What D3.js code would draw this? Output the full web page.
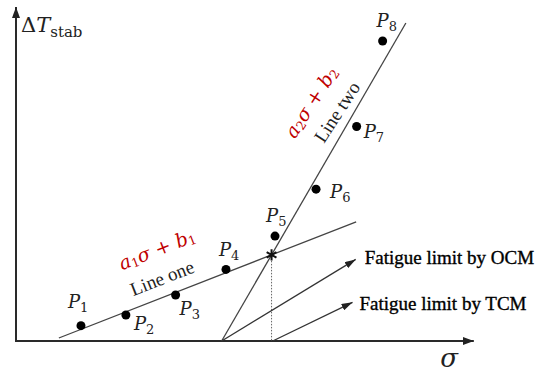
<!DOCTYPE html>
<html><head><meta charset="utf-8">
<script src="https://cdn.jsdelivr.net/npm/d3@7"></script>
<style>html,body{margin:0;padding:0;background:#fff;}svg{display:block;}</style>
</head><body>
<svg id="chart" width="537" height="374"></svg>
<script>
// ---- data ----
const pointNames = ["1","2","3","4","5","6","7","8"];
const sigmaVals = [14.25, 24.1, 35.0, 46.05, 56.8, 65.8, 74.7, 80.4];
const dTVals    = [4.6, 7.8, 13.8, 21.5, 31.5, 45.6, 64.4, 90.1];
const lineOneSigma = [9.4, 74.6];
const lineOneT     = [0.9, 35.8];
const lineTwoSigma = [45.1, 85.5];
const lineTwoT     = [0, 95.5];
const ocmSigma = [45.1, 74.5];
const ocmT     = [0, 24.5];
const tcmSigma = [56.3, 73.8];
const tcmT     = [0, 11.6];
const arrowLabels = ["Fatigue limit by OCM", "Fatigue limit by TCM"];
const lineNames = ["Line one", "Line two"];

// ---- layout ----
const svg = d3.select("#chart");
const x = d3.scaleLinear().domain([0, 100]).range([16, 472]);
const y = d3.scaleLinear().domain([0, 100]).range([341, 8]);
const serif = "'Liberation Serif','Times New Roman',serif";
const math = "'DejaVu Serif',serif";

const defs = svg.append("defs");
function marker(id, len, wid) {
  defs.append("marker").attr("id", id).attr("viewBox", `0 0 ${len} ${wid}`)
    .attr("refX", len).attr("refY", wid/2).attr("markerUnits", "userSpaceOnUse")
    .attr("markerWidth", len).attr("markerHeight", wid).attr("orient", "auto")
    .append("path").attr("d", `M0,0L${len},${wid/2}L0,${wid}Z`).attr("fill", "#222");
}
marker("axArrow", 11, 8);
marker("anArrow", 11, 7);

// axes
svg.append("line").attr("x1", x(0)).attr("y1", y(0)).attr("x2", x(100.4)).attr("y2", y(0))
  .attr("stroke", "#2a2a2a").attr("stroke-width", 2).attr("marker-end", "url(#axArrow)");
svg.append("line").attr("x1", x(0)).attr("y1", y(0) + 1).attr("x2", x(0)).attr("y2", y(100.3))
  .attr("stroke", "#2a2a2a").attr("stroke-width", 2).attr("marker-end", "url(#axArrow)");

// fitted lines
const lineGen = d3.line().x(d => x(d[0])).y(d => y(d[1]));
svg.append("path").attr("d", lineGen(d3.zip(lineOneSigma, lineOneT)))
  .attr("stroke", "#444").attr("stroke-width", 1.3).attr("fill", "none");
svg.append("path").attr("d", lineGen(d3.zip(lineTwoSigma, lineTwoT)))
  .attr("stroke", "#444").attr("stroke-width", 1.3).attr("fill", "none");

// intersection
const a1 = (lineOneT[1]-lineOneT[0])/(lineOneSigma[1]-lineOneSigma[0]), b1 = lineOneT[0]-a1*lineOneSigma[0];
const a2 = (lineTwoT[1]-lineTwoT[0])/(lineTwoSigma[1]-lineTwoSigma[0]), b2 = lineTwoT[0]-a2*lineTwoSigma[0];
const sI = (b1-b2)/(a2-a1), tI = a1*sI + b1;

svg.append("line").attr("x1", x(sI)).attr("y1", y(tI)).attr("x2", x(sI)).attr("y2", y(0))
  .attr("stroke", "#666").attr("stroke-width", 1).attr("stroke-dasharray", "1.5,1.5");

// annotation arrows
[[ocmSigma, ocmT], [tcmSigma, tcmT]].forEach(([s, t]) => {
  svg.append("path").attr("d", lineGen(d3.zip(s, t)))
    .attr("stroke", "#333").attr("stroke-width", 1.3).attr("fill", "none")
    .attr("marker-end", "url(#anArrow)");
});
svg.append("text").attr("x", x(ocmSigma[1]) + 9).attr("y", y(ocmT[1]) + 5)
  .attr("font-family", serif).attr("font-size", 19).attr("fill", "#000")
  .attr("stroke", "#000").attr("stroke-width", 0.35).text(arrowLabels[0]);
svg.append("text").attr("x", x(tcmSigma[1]) + 7).attr("y", y(tcmT[1]) + 8)
  .attr("font-family", serif).attr("font-size", 19).attr("fill", "#000")
  .attr("stroke", "#000").attr("stroke-width", 0.35).text(arrowLabels[1]);

// star
svg.append("path").attr("transform", `translate(${x(sI)},${y(tI)})`)
  .attr("d", d3.symbol(d3.symbolAsterisk, 90)())
  .attr("stroke", "#111").attr("stroke-width", 2).attr("fill", "none");

// points
const pts = d3.zip(sigmaVals, dTVals, pointNames);
svg.selectAll("circle.pt").data(pts).join("circle").attr("class", "pt")
  .attr("cx", d => x(d[0])).attr("cy", d => y(d[1])).attr("r", 4.5).attr("fill", "#000");

const labelOff = [[-13,-18],[8,15],[4,20],[-7,-13],[-9,-14],[14,9],[7,11],[-6,-14]];
pts.forEach((d, i) => {
  const t = svg.append("text").attr("x", x(d[0]) + labelOff[i][0]).attr("y", y(d[1]) + labelOff[i][1])
    .attr("font-family", math).attr("fill", "#222");
  t.append("tspan").attr("font-size", 18).attr("font-style", "italic").text("P");
  t.append("tspan").attr("font-size", 13).attr("dy", 4).text(d[2]);
});

// line name labels
const ang1 = Math.atan2(y(lineOneT[1]) - y(lineOneT[0]), x(lineOneSigma[1]) - x(lineOneSigma[0])) * 180 / Math.PI;
const ang2 = -57;
function rotText(cx, cy, ang) {
  return svg.append("text").attr("transform", `translate(${cx},${cy}) rotate(${ang})`)
    .attr("text-anchor", "middle").attr("dominant-baseline", "central");
}
rotText(162, 278, ang1).attr("font-family", serif).attr("font-size", 19).attr("fill", "#222").text(lineNames[0]);
rotText(337, 112, ang2).attr("font-family", serif).attr("font-size", 19).attr("fill", "#222").text(lineNames[1]);

function formula(cx, cy, ang, k) {
  const t = rotText(cx, cy, ang).attr("font-family", math).attr("font-size", 19).attr("fill", "#c00000");
  t.append("tspan").attr("font-style", "italic").text("a");
  t.append("tspan").attr("font-size", 12.5).attr("dy", 4).text(k);
  t.append("tspan").attr("font-style", "italic").attr("dy", -4).text("σ + ");
  t.append("tspan").attr("font-style", "italic").text("b");
  t.append("tspan").attr("font-size", 12.5).attr("dy", 4).text(k);
}
formula(157, 249, ang1, "1");
formula(311, 102, ang2, "2");

// axis labels
const yl = svg.append("text").attr("x", 21).attr("y", 32).attr("font-family", math).attr("fill", "#222");
yl.append("tspan").attr("font-size", 21).text("Δ");
yl.append("tspan").attr("font-size", 21).attr("font-style", "italic").text("T");
yl.append("tspan").attr("font-size", 15).attr("dy", 5).text("stab");

svg.append("text").attr("x", 449).attr("y", 367).attr("text-anchor", "middle")
  .attr("font-family", math).attr("font-style", "italic").attr("font-size", 26).attr("fill", "#222").text("σ");
</script>
</body></html>
